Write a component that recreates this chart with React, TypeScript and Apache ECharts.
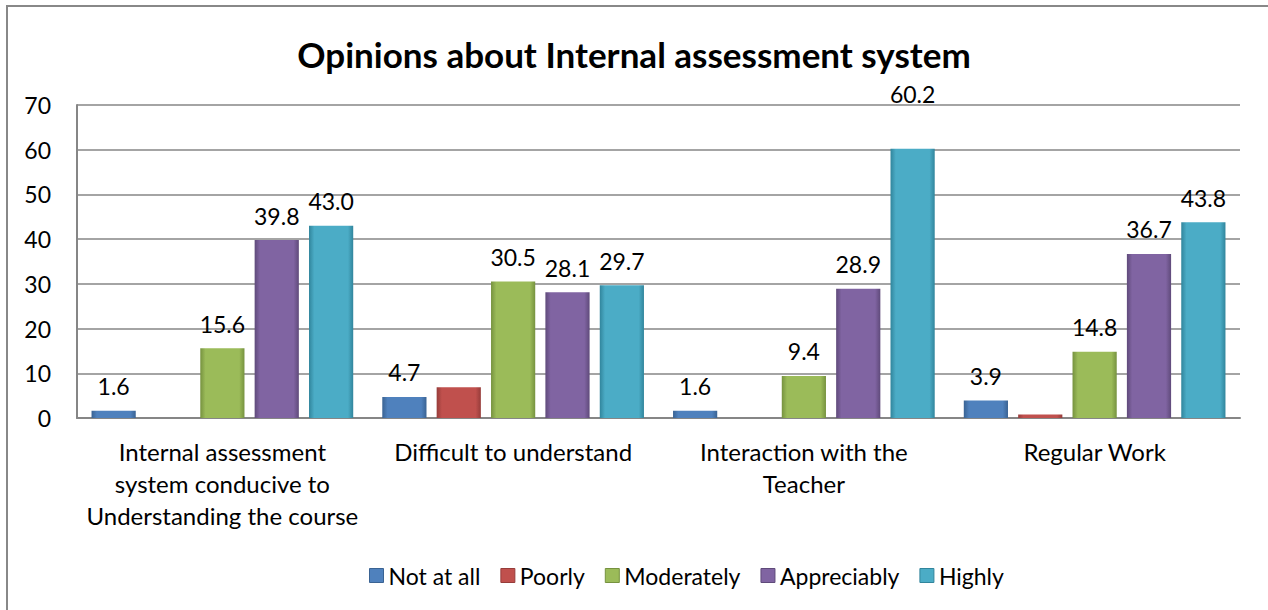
import React, { useEffect, useRef } from "react";
import * as echarts from "echarts";

const categories = [
  "Internal assessment\nsystem conducive to\nUnderstanding the course",
  "Difficult to understand",
  "Interaction with the\nTeacher",
  "Regular Work",
];
const seriesNames = ["Not at all", "Poorly", "Moderately", "Appreciably", "Highly"];
const notAtAll = [1.6, 4.7, 1.6, 3.9];
const poorly = [0, 6.9, 0, 0.8];
const moderately = [15.6, 30.5, 9.4, 14.8];
const appreciably = [39.8, 28.1, 28.9, 36.7];
const highly = [43.0, 29.7, 60.2, 43.8];
const yTicks = { min: 0, max: 70, interval: 10 };

const baseColors = ["#4F81BD", "#C0504D", "#9BBB59", "#8064A2", "#4BACC6"];
const edgeColors = ["#3A6393", "#963C3A", "#76923F", "#5F4A7A", "#31859C"];

const FONT = "Lato, 'Liberation Sans', sans-serif";

export default function App() {
  const ref = useRef<HTMLDivElement>(null);
  useEffect(() => {
    if (!ref.current) return;
    const chart = echarts.init(ref.current, undefined, { renderer: "svg" });
    const all = [notAtAll, poorly, moderately, appreciably, highly];
    const series = all.map((data, i) => ({
      name: seriesNames[i],
      type: "bar",
      data: data.map((v, j) =>
        i === 4 && j === 2 ? { value: v, label: { offset: [0, -30] } } : v
      ),
      barGap: "23%",
      barCategoryGap: "10%",
      itemStyle: {
        color: new echarts.graphic.LinearGradient(0, 0, 1, 0, [
          { offset: 0, color: edgeColors[i] },
          { offset: 0.12, color: baseColors[i] },
          { offset: 0.88, color: baseColors[i] },
          { offset: 1, color: edgeColors[i] },
        ]),
        borderWidth: 0,
      },
      label: {
        show: i !== 1,
        position: "top",
        distance: 13,
        color: "#000",
        fontFamily: FONT,
        fontSize: 23,
        formatter: (p: any) => (p.value > 0 ? Number(p.value).toFixed(1) : ""),
      },
    }));
    chart.setOption({
      animation: false,
      backgroundColor: "#fff",
      title: {
        text: "Opinions about Internal assessment system",
        left: "center",
        top: 31,
        textStyle: { fontFamily: FONT, fontSize: 35, fontWeight: "bold", color: "#000" },
      },
      graphic: [
        {
          type: "rect",
          shape: { x: 7, y: 6, width: 1400, height: 800 },
          style: { fill: "none", stroke: "#888888", lineWidth: 2 },
          silent: true,
        },
      ],
      legend: {
        bottom: 18,
        left: 364,
        itemWidth: 14,
        itemHeight: 14,
        itemGap: 20,
        icon: "rect",
        textStyle: { fontFamily: FONT, fontSize: 23, color: "#000" },
        data: seriesNames.map((n, i) => ({ name: n, itemStyle: { color: baseColors[i], borderColor: edgeColors[i], borderWidth: 1 } })),
      },
      grid: { left: 77, right: 28, top: 105, bottom: 192, containLabel: false },
      xAxis: {
        type: "category",
        data: categories,
        axisLine: { lineStyle: { color: "#868686", width: 2 } },
        axisTick: { show: false },
        axisLabel: {
          interval: 0,
          margin: 17,
          fontFamily: FONT,
          fontSize: 24,
          lineHeight: 32,
          color: "#000",
        },
      },
      yAxis: {
        type: "value",
        min: yTicks.min,
        max: yTicks.max,
        interval: yTicks.interval,
        axisLine: { show: true, lineStyle: { color: "#868686", width: 2 } },
        axisTick: { show: false },
        splitLine: { lineStyle: { color: "#868686", width: 1.5 } },
        axisLabel: { margin: 26, fontFamily: FONT, fontSize: 23, color: "#000" },
      },
      series,
    });
    return () => chart.dispose();
  }, []);
  return (
    <div
      ref={ref}
      style={{ position: "fixed", left: 0, top: 0, width: 1268, height: 610 }}
    />
  );
}
